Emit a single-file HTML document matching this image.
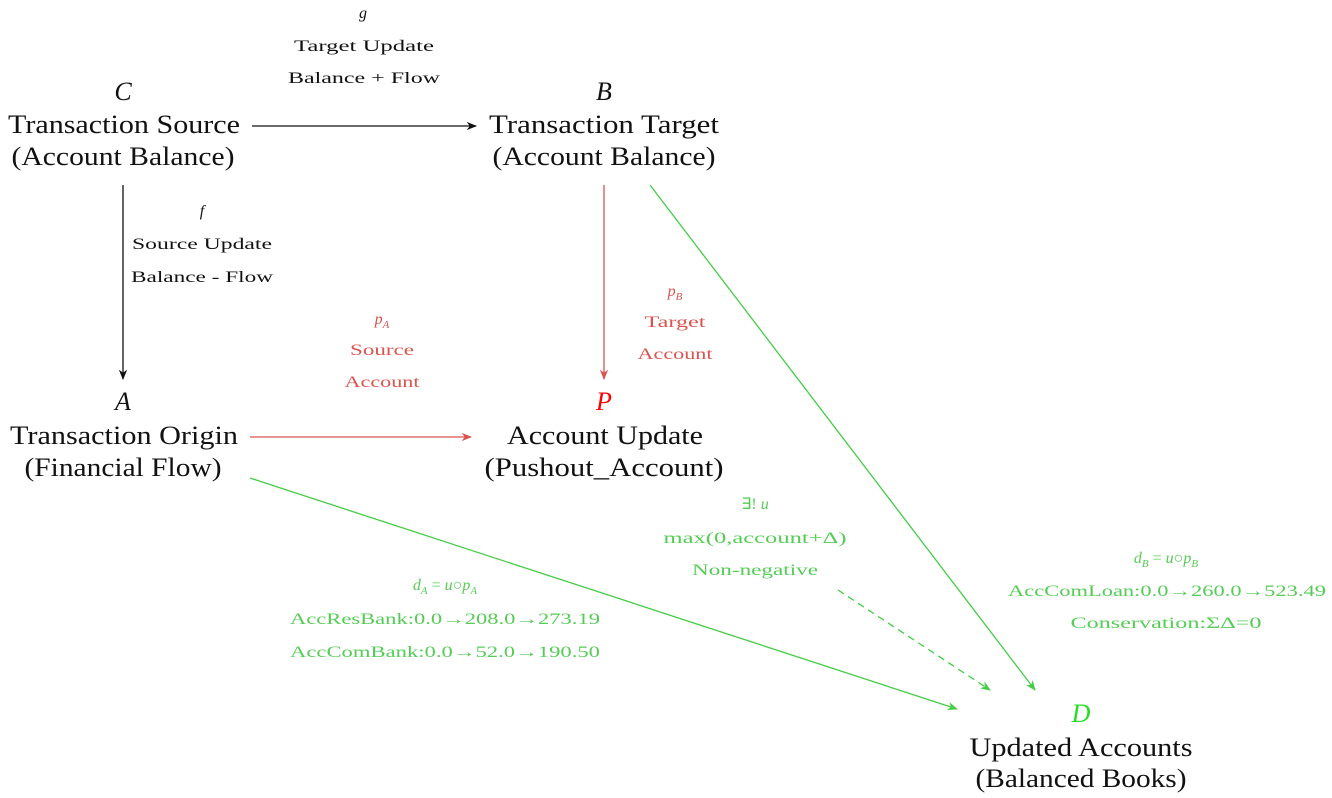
<!DOCTYPE html>
<html><head><meta charset="utf-8"><style>
html,body{margin:0;padding:0;background:#fff;}
svg{display:block;}
text{font-family:"Liberation Serif",serif;}
.big{font-size:26px;fill:#111;}
.sm{font-size:16px;}
.g{fill:#55cc55;}
.r{fill:#d9534f;}
.k{fill:#111;}
</style></head><body>
<svg width="1332" height="798" viewBox="0 0 1332 798" xmlns="http://www.w3.org/2000/svg">
<defs>
<marker id="ak" viewBox="0 0 10 10" refX="9" refY="5" markerWidth="8" markerHeight="8" orient="auto"><path d="M0,1 L10,5 L0,9 L3,5Z" fill="#111"/></marker>
<marker id="ar" viewBox="0 0 10 10" refX="9" refY="5" markerWidth="8" markerHeight="8" orient="auto"><path d="M0,1 L10,5 L0,9 L3,5Z" fill="#d9534f"/></marker>
<marker id="ag" viewBox="0 0 10 10" refX="9" refY="5" markerWidth="8" markerHeight="8" orient="auto"><path d="M0,1 L10,5 L0,9 L3,5Z" fill="#44cc44"/></marker>
</defs>
<g text-anchor="middle" lengthAdjust="spacingAndGlyphs">
<text x="123" y="100" class="big" font-style="italic">C</text>
<text x="124" y="133" class="big" textLength="232" lengthAdjust="spacingAndGlyphs">Transaction Source</text>
<text x="123" y="165" class="big" textLength="223" lengthAdjust="spacingAndGlyphs">(Account Balance)</text>

<text x="604" y="100" class="big" font-style="italic">B</text>
<text x="604" y="133" class="big" textLength="230" lengthAdjust="spacingAndGlyphs">Transaction Target</text>
<text x="604" y="165" class="big" textLength="223" lengthAdjust="spacingAndGlyphs">(Account Balance)</text>

<text x="123" y="410" class="big" font-style="italic">A</text>
<text x="124" y="444" class="big" textLength="228" lengthAdjust="spacingAndGlyphs">Transaction Origin</text>
<text x="123" y="476" class="big" textLength="197" lengthAdjust="spacingAndGlyphs">(Financial Flow)</text>

<text x="604" y="410" class="big" font-style="italic" style="fill:#ff0000">P</text>
<text x="605" y="444" class="big" textLength="196" lengthAdjust="spacingAndGlyphs">Account Update</text>
<text x="604" y="476" class="big" textLength="239" lengthAdjust="spacingAndGlyphs">(Pushout_Account)</text>

<text x="1081" y="722" class="big" font-style="italic" style="fill:#22dd22">D</text>
<text x="1081" y="756" class="big" textLength="223" lengthAdjust="spacingAndGlyphs">Updated Accounts</text>
<text x="1081" y="787" class="big" textLength="211" lengthAdjust="spacingAndGlyphs">(Balanced Books)</text>

<text x="363" y="18" class="sm k" font-style="italic">g</text>
<text x="364" y="51" class="sm k" textLength="140" lengthAdjust="spacingAndGlyphs">Target Update</text>
<text x="364" y="83" class="sm k" textLength="152" lengthAdjust="spacingAndGlyphs">Balance + Flow</text>

<text x="202" y="216" class="sm k" font-style="italic">f</text>
<text x="202" y="249" class="sm k" textLength="140" lengthAdjust="spacingAndGlyphs">Source Update</text>
<text x="202" y="282" class="sm k" textLength="142" lengthAdjust="spacingAndGlyphs">Balance - Flow</text>

<text x="382" y="324" class="sm r" font-style="italic">p<tspan font-size="11" dy="4">A</tspan></text>
<text x="382" y="355" class="sm r" textLength="64" lengthAdjust="spacingAndGlyphs">Source</text>
<text x="382" y="387" class="sm r" textLength="75" lengthAdjust="spacingAndGlyphs">Account</text>

<text x="675" y="296" class="sm r" font-style="italic">p<tspan font-size="11" dy="4">B</tspan></text>
<text x="675" y="327" class="sm r" textLength="61" lengthAdjust="spacingAndGlyphs">Target</text>
<text x="675" y="359" class="sm r" textLength="75" lengthAdjust="spacingAndGlyphs">Account</text>

<text x="755" y="509" class="sm g">∃! <tspan font-style="italic">u</tspan></text>
<text x="755" y="543" class="sm g" textLength="183" lengthAdjust="spacingAndGlyphs">max(0,account+Δ)</text>
<text x="755" y="575" class="sm g" textLength="126" lengthAdjust="spacingAndGlyphs">Non-negative</text>

<text x="445" y="590" class="sm g"><tspan font-style="italic">d</tspan><tspan font-size="11" dy="4" font-style="italic">A</tspan><tspan dy="-4"> = </tspan><tspan font-style="italic">u</tspan>○<tspan font-style="italic">p</tspan><tspan font-size="11" dy="4" font-style="italic">A</tspan></text>
<text x="445" y="624" class="sm g" textLength="310" lengthAdjust="spacingAndGlyphs">AccResBank:0.0→208.0→273.19</text>
<text x="445" y="657" class="sm g" textLength="310" lengthAdjust="spacingAndGlyphs">AccComBank:0.0→52.0→190.50</text>

<text x="1166" y="563" class="sm g"><tspan font-style="italic">d</tspan><tspan font-size="11" dy="4" font-style="italic">B</tspan><tspan dy="-4"> = </tspan><tspan font-style="italic">u</tspan>○<tspan font-style="italic">p</tspan><tspan font-size="11" dy="4" font-style="italic">B</tspan></text>
<text x="1167" y="596" class="sm g" textLength="318" lengthAdjust="spacingAndGlyphs">AccComLoan:0.0→260.0→523.49</text>
<text x="1166" y="628" class="sm g" textLength="191" lengthAdjust="spacingAndGlyphs">Conservation:ΣΔ=0</text>
</g>

<line x1="252" y1="126" x2="476" y2="126" stroke="#111" stroke-width="1.3" marker-end="url(#ak)"/>
<line x1="123" y1="185" x2="123" y2="379" stroke="#111" stroke-width="1.3" marker-end="url(#ak)"/>
<line x1="604" y1="185" x2="604" y2="379" stroke="#d9534f" stroke-width="1.3" marker-end="url(#ar)"/>
<line x1="250" y1="437" x2="471" y2="437" stroke="#d9534f" stroke-width="1.3" marker-end="url(#ar)"/>
<line x1="250" y1="478" x2="957" y2="709" stroke="#44cc44" stroke-width="1.3" marker-end="url(#ag)"/>
<line x1="650" y1="185" x2="1035" y2="690" stroke="#44cc44" stroke-width="1.3" marker-end="url(#ag)"/>
<line x1="838" y1="590" x2="990" y2="690" stroke="#44cc44" stroke-width="1.3" stroke-dasharray="7,5" marker-end="url(#ag)"/>
</svg>
</body></html>
